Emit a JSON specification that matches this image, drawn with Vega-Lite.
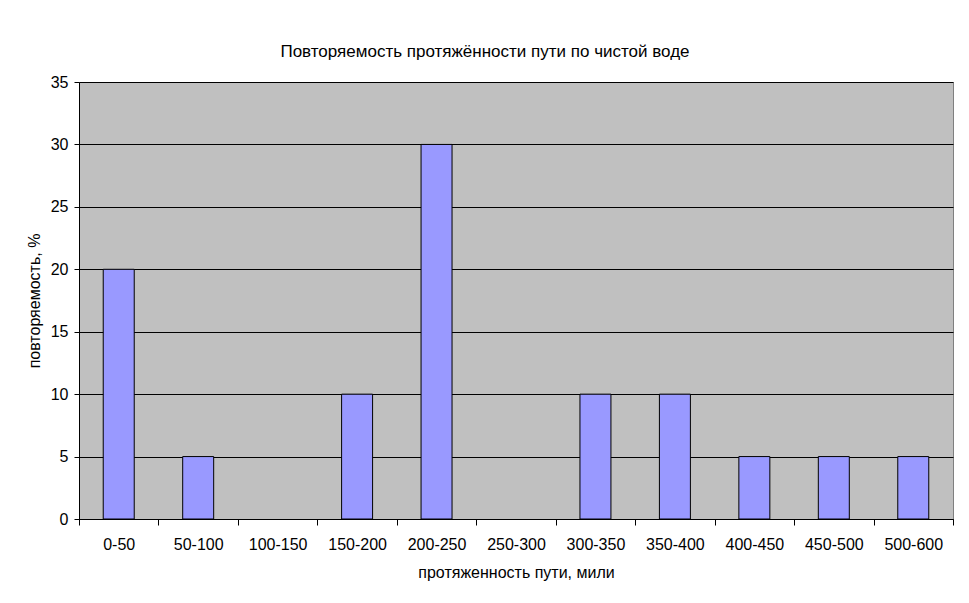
{
  "$schema": "https://vega.github.io/schema/vega-lite/v6.json",
  "autosize": "none",
  "width": 874,
  "height": 437,
  "padding": {"left": 79, "top": 82, "right": 16, "bottom": 84},
  "background": "white",
  "title": {
    "text": "Повторяемость протяжённости пути по чистой воде",
    "font": "Liberation Sans",
    "fontSize": 17,
    "fontWeight": "normal",
    "color": "black",
    "anchor": "middle",
    "dx": -31,
    "offset": 13
  },
  "config": {
    "view": {"fill": "#C0C0C0", "stroke": "#808080", "strokeWidth": 1},
    "axis": {
      "labelFont": "Liberation Sans",
      "titleFont": "Liberation Sans",
      "labelFontSize": 16,
      "titleFontSize": 16,
      "labelColor": "black",
      "titleColor": "black",
      "titleFontWeight": "normal",
      "domainColor": "black",
      "tickColor": "black",
      "gridColor": "black",
      "gridOpacity": 1
    }
  },
  "data": {
    "values": [
      {"range": "0-50", "value": 20},
      {"range": "50-100", "value": 5},
      {"range": "100-150", "value": 0},
      {"range": "150-200", "value": 10},
      {"range": "200-250", "value": 30},
      {"range": "250-300", "value": 0},
      {"range": "300-350", "value": 10},
      {"range": "350-400", "value": 10},
      {"range": "400-450", "value": 5},
      {"range": "450-500", "value": 5},
      {"range": "500-600", "value": 5}
    ]
  },
  "mark": {"type": "bar", "fill": "#9999FF", "stroke": "black", "strokeWidth": 1, "width": {"band": 0.39}},
  "encoding": {
    "x": {
      "field": "range",
      "type": "nominal",
      "sort": null,
      "scale": {"paddingInner": 0, "paddingOuter": 0},
      "axis": {
        "title": "протяженность пути, мили",
        "labelAngle": 0,
        "tickBand": "extent",
        "tickSize": 6,
        "labelPadding": 11,
        "titlePadding": 12,
        "grid": false
      }
    },
    "y": {
      "field": "value",
      "type": "quantitative",
      "scale": {"domain": [0, 35], "nice": false},
      "axis": {
        "title": "повторяемость, %",
        "values": [0, 5, 10, 15, 20, 25, 30, 35],
        "tickSize": 5,
        "labelPadding": 6,
        "titlePadding": 8,
        "grid": true
      }
    },
    "strokeOpacity": {"condition": {"test": "datum.value == 0", "value": 0}, "value": 1}
  }
}
